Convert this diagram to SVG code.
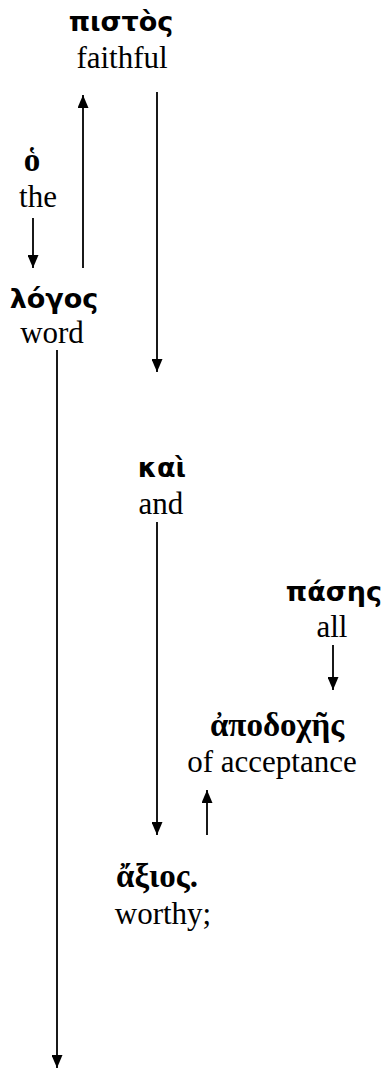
<svg xmlns="http://www.w3.org/2000/svg" width="384" height="1073" viewBox="0 0 384 1073">
  <style>
    .gk { font-family: "DejaVu Sans", sans-serif; font-weight: bold; font-size: 27px; fill: #000; text-anchor: middle; }
    .gks { font-family: "Liberation Serif", serif; font-weight: bold; font-size: 33px; fill: #000; text-anchor: middle; }
    .en { font-family: "Liberation Serif", serif; font-size: 31px; fill: #000; text-anchor: middle; }
    .edge { stroke: #000; stroke-width: 1.8; fill: none; marker-end: url(#head); }
  </style>
  <defs>
    <!-- filled triangular arrowhead, pointing along the line direction -->
    <marker id="head" markerWidth="13" markerHeight="11" refX="13" refY="5.5" orient="auto" markerUnits="userSpaceOnUse" viewBox="0 0 13 11">
      <path d="M0,0 L13,5.5 L0,11 Z" fill="#000"/>
    </marker>
  </defs>
  <rect width="384" height="1073" fill="#fff"/>

  <g id="connectors">
    <path class="edge" d="M83,268 V95"/>
    <path class="edge" d="M157,92 V372"/>
    <path class="edge" d="M33,218 V268"/>
    <path class="edge" d="M57,350 V1068"/>
    <path class="edge" d="M157,522 V835"/>
    <path class="edge" d="M333,645 V690"/>
    <path class="edge" d="M207,835 V790"/>
  </g>

  <g id="n-pistos">
    <text class="gk" x="121" y="31">πιστὸς</text>
    <text class="en" x="122" y="68">faithful</text>
  </g>
  <g id="n-ho">
    <text class="gks" x="32" y="171">ὁ</text>
    <text class="en" x="38" y="207">the</text>
  </g>
  <g id="n-logos">
    <text class="gk" x="54" y="308">λόγος</text>
    <text class="en" x="52" y="343">word</text>
  </g>
  <g id="n-kai">
    <text class="gk" x="162" y="477">καὶ</text>
    <text class="en" x="161" y="514">and</text>
  </g>
  <g id="n-pases">
    <text class="gk" x="382" y="601" style="text-anchor:end">πάσης</text>
    <text class="en" x="332" y="637">all</text>
  </g>
  <g id="n-apodoches">
    <text class="gks" x="277" y="736">ἀποδοχῆς</text>
    <text class="en" x="272" y="772">of acceptance</text>
  </g>
  <g id="n-axios">
    <text class="gks" x="157" y="887">ἄξιος.</text>
    <text class="en" x="163" y="924">worthy;</text>
  </g>
</svg>
